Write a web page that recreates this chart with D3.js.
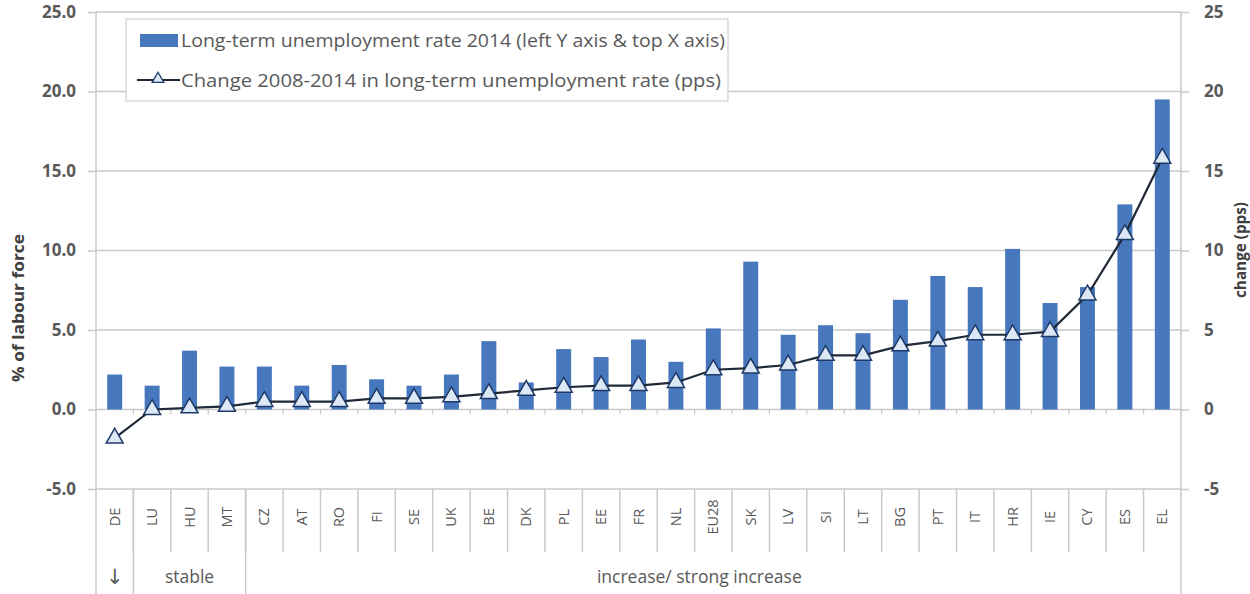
<!DOCTYPE html>
<html><head><meta charset="utf-8">
<script src="https://cdn.jsdelivr.net/npm/d3@7"></script>
<style>
html,body{margin:0;padding:0;background:#fff;}
text{font-family:"Open Sans","Liberation Sans",sans-serif;fill:#595959;}
</style></head>
<body><svg id="c" width="1250" height="594"></svg>
<script>
const categories = ["DE","LU","HU","MT","CZ","AT","RO","FI","SE","UK","BE","DK","PL","EE","FR","NL","EU28","SK","LV","SI","LT","BG","PT","IT","HR","IE","CY","ES","EL"];
const rate2014 = [2.2,1.5,3.7,2.7,2.7,1.5,2.8,1.9,1.5,2.2,4.3,1.7,3.8,3.3,4.4,3.0,5.1,9.3,4.7,5.3,4.8,6.9,8.4,7.7,10.1,6.7,7.7,12.9,19.5];
const change0814 = [-1.8,0.0,0.1,0.2,0.5,0.5,0.5,0.7,0.7,0.8,1.0,1.2,1.4,1.5,1.5,1.7,2.5,2.6,2.8,3.4,3.4,4.0,4.3,4.7,4.7,4.9,7.2,11.0,15.8];
const leftTicks = [-5,0,5,10,15,20,25];
const rightTicks = [-5,0,5,10,15,20,25];
const groups = [{label:"\u2193", from:0, to:1},{label:"stable", from:1, to:4},{label:"increase/ strong increase", from:4, to:29}];
const legendLabels = ["Long-term unemployment rate 2014 (left Y axis & top X axis)","Change 2008-2014 in long-term unemployment rate (pps)"];

const svg = d3.select("#c");
const L = 96, R = 1181, T = 12, B = 489;
const x = d3.scaleBand().domain(categories).range([L,R]).paddingInner(0.6).paddingOuter(0.3);
const xb = d3.scaleBand().domain(categories).range([L,R]);
const yL = d3.scaleLinear().domain([-5,25]).range([B,T]);
const yR = d3.scaleLinear().domain([-5,25]).range([B,T]);
const grid = "#c9c9c9";
const hy = s => s.replace("\u2212","-");

// gridlines
svg.append("g").selectAll("line").data(leftTicks).join("line")
  .attr("x1",L).attr("x2",R).attr("y1",d=>yL(d)).attr("y2",d=>yL(d))
  .attr("stroke",grid).attr("stroke-width",1.5);

// left axis
const ga = svg.append("g").attr("transform",`translate(${L},0)`)
  .call(d3.axisLeft(yL).tickValues(leftTicks).tickFormat(d=>hy(d3.format(".1f")(d))).tickSize(8).tickPadding(12));
ga.select(".domain").remove();
ga.selectAll("line").attr("stroke",grid).attr("stroke-width",1.5);
ga.selectAll("text").attr("font-size",17).attr("font-weight","bold").style("fill","#595959").style("font-family","Open Sans");
svg.append("line").attr("x1",L).attr("x2",L).attr("y1",T).attr("y2",594).attr("stroke",grid).attr("stroke-width",1.5);

// right axis
const gr = svg.append("g").attr("transform",`translate(${R},0)`)
  .call(d3.axisRight(yR).tickValues(rightTicks).tickFormat(d=>hy(d3.format("d")(d))).tickSize(8).tickPadding(15));
gr.select(".domain").remove();
gr.selectAll("line").attr("stroke",grid).attr("stroke-width",1.5);
gr.selectAll("text").attr("font-size",17).attr("font-weight","bold").style("fill","#595959").style("font-family","Open Sans");
svg.append("line").attr("x1",R).attr("x2",R).attr("y1",T).attr("y2",594).attr("stroke",grid).attr("stroke-width",1.5);

// axis titles
svg.append("text").attr("transform",`translate(24,308) rotate(-90)`).attr("text-anchor","middle")
  .attr("font-size",16).attr("font-weight","bold").style("fill","#404040")
  .attr("textLength",148).attr("lengthAdjust","spacingAndGlyphs").text("% of labour force");
svg.append("text").attr("transform",`translate(1246,250) rotate(-90)`).attr("text-anchor","middle")
  .attr("font-size",16).attr("font-weight","bold").style("fill","#404040")
  .attr("textLength",96).attr("lengthAdjust","spacingAndGlyphs").text("change (pps)");

// zero-line minor ticks
svg.append("g").selectAll("line").data(categories.slice(1)).join("line")
  .attr("x1",d=>xb(d)).attr("x2",d=>xb(d)).attr("y1",yL(0)).attr("y2",yL(0)+5)
  .attr("stroke",grid).attr("stroke-width",1.2);

// bars
svg.append("g").selectAll("rect").data(categories).join("rect")
  .attr("x",d=>x(d)).attr("width",x.bandwidth())
  .attr("y",(d,i)=>yL(Math.max(0,rate2014[i])))
  .attr("height",(d,i)=>Math.abs(yL(rate2014[i])-yL(0)))
  .attr("fill","#4778be");

// line
const pts = categories.map((c,i)=>[xb(c)+xb.bandwidth()/2, yR(change0814[i])]);
svg.append("path").attr("d",d3.line()(pts)).attr("fill","none").attr("stroke","#1f2937").attr("stroke-width",2.2);
const tri = d3.symbol().type(d3.symbolTriangle).size(125);
svg.append("g").selectAll("path").data(pts).join("path")
  .attr("transform",d=>`translate(${d[0]},${d[1]})`).attr("d",tri)
  .attr("fill","#dce8f5").attr("stroke","#1f3a68").attr("stroke-width",1.5);

// category labels
svg.append("g").selectAll("text").data(categories).join("text")
  .attr("transform",d=>`translate(${xb(d)+xb.bandwidth()/2+5},517) rotate(-90)`)
  .attr("text-anchor","middle").attr("font-size",14.5).text(d=>d);
// category separators
svg.append("g").selectAll("line").data(categories.slice(1)).join("line")
  .attr("x1",d=>xb(d)).attr("x2",d=>xb(d)).attr("y1",B).attr("y2",552)
  .attr("stroke",grid).attr("stroke-width",1.5);
// group separators and labels
svg.append("g").selectAll("line").data(groups.slice(1)).join("line")
  .attr("x1",d=>xb(categories[d.from])).attr("x2",d=>xb(categories[d.from])).attr("y1",B).attr("y2",594)
  .attr("stroke",grid).attr("stroke-width",1.5);
svg.append("g").selectAll("text").data(groups).join("text")
  .attr("x",d=>(xb(categories[d.from]) + (d.to>=categories.length?R:xb(categories[d.to])))/2 - (d.from===4?14:0))
  .attr("y",d=>d.from===0?584:583).attr("text-anchor","middle")
  .attr("font-size",d=>d.from===0?21:17.5)
  .style("font-family",d=>d.from===0?"DejaVu Sans":null)
  .text(d=>d.label);

// legend
const lg = svg.append("g");
lg.append("rect").attr("x",126).attr("y",19).attr("width",602).attr("height",82)
  .attr("fill","#fff").attr("stroke","#d0d0d0").attr("stroke-width",1.2);
lg.append("rect").attr("x",140).attr("y",34).attr("width",38).attr("height",13).attr("fill","#4778be");
lg.append("line").attr("x1",137).attr("x2",180).attr("y1",80).attr("y2",80).attr("stroke","#1f2937").attr("stroke-width",2);
lg.append("path").attr("transform","translate(158,79)").attr("d",d3.symbol().type(d3.symbolTriangle).size(60))
  .attr("fill","#dce8f5").attr("stroke","#1f3a68").attr("stroke-width",1.3);
lg.selectAll("text").data(legendLabels).join("text")
  .attr("x",181).attr("y",(d,i)=>47+i*40).attr("font-size",17.5)
  .attr("textLength",(d,i)=>i===0?544:540).attr("lengthAdjust","spacingAndGlyphs").text(d=>d);
</script></body></html>
